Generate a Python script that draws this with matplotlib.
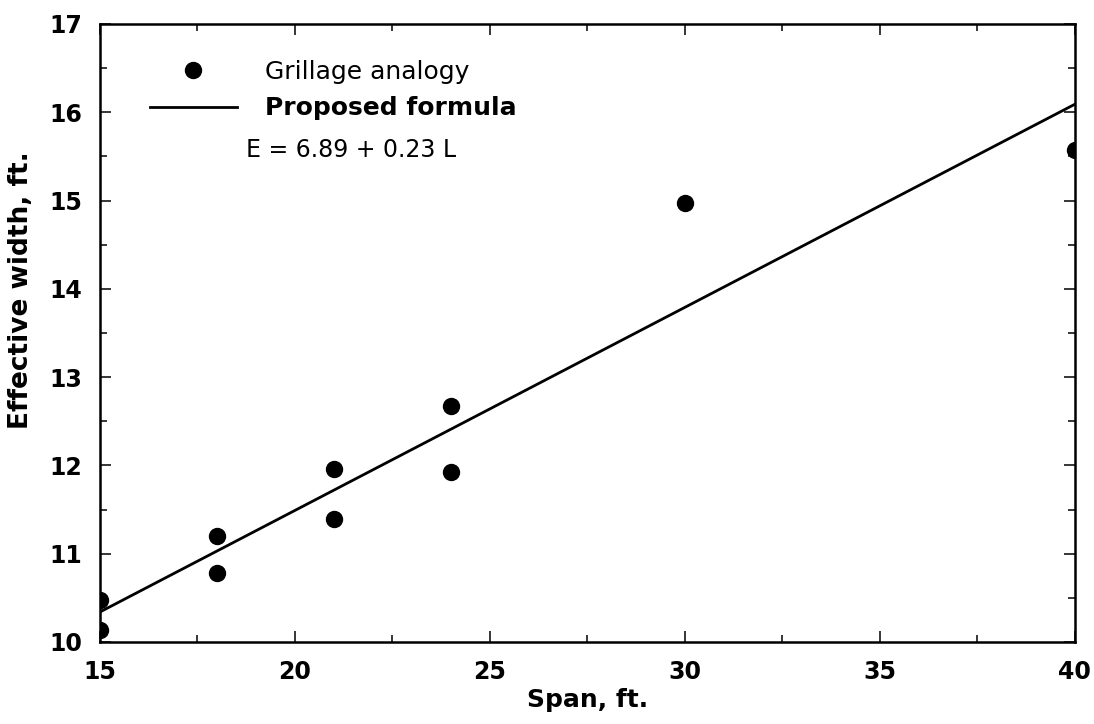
import matplotlib.pyplot as plt
from matplotlib.ticker import MultipleLocator
from matplotlib.lines import Line2D

# Grillage analogy results
span = [15, 15, 18, 18, 21, 21, 24, 24, 30, 40]
width = [10.13, 10.47, 10.78, 11.20, 11.39, 11.96, 11.93, 12.67, 14.97, 15.57]

# Proposed formula line end points
line_span = [15, 40]
line_width = [10.34, 16.09]

plt.rcParams['font.family'] = ['DejaVu Sans']

fig = plt.figure(figsize=(10.94, 7.24), dpi=100)
ax = fig.add_axes([0.0914, 0.1133, 0.891, 0.8536])

ax.plot(line_span, line_width, color='black', lw=2.0)
# dots on the spines are clipped to half circles, as in the original
ax.plot(span, width, 'o', color='black', markersize=11.5)

ax.set_xlim(15, 40)
ax.set_ylim(10, 17)
ax.xaxis.set_major_locator(MultipleLocator(5))
ax.xaxis.set_minor_locator(MultipleLocator(2.5))
ax.yaxis.set_major_locator(MultipleLocator(1))
ax.yaxis.set_minor_locator(MultipleLocator(0.5))
ax.tick_params(which='both', direction='in', top=True, right=True, width=1.1)
ax.tick_params(which='major', length=8, labelsize=17, pad=13)
ax.tick_params(which='minor', length=5)
for lbl in ax.get_xticklabels() + ax.get_yticklabels():
    lbl.set_fontweight('bold')
for s in ax.spines.values():
    s.set_linewidth(1.8)

ax.set_xlabel('Span, ft.', fontsize=18, fontweight='bold', labelpad=3)
ax.set_ylabel('Effective width, ft.', fontsize=19, fontweight='bold')
ax.yaxis.set_label_coords(-0.068, 0.57)

handles = [Line2D([], [], marker='o', color='black', ls='none', markersize=11.5),
           Line2D([], [], color='black', lw=2.0)]
leg = ax.legend(handles, ['Grillage analogy', 'Proposed formula'], loc='upper left',
                bbox_to_anchor=(0.051, 0.942), frameon=False, fontsize=18,
                borderpad=0, borderaxespad=0,
                handlelength=3.5, handletextpad=1.1, labelspacing=0.5)
leg.get_texts()[1].set_fontweight('bold')
ax.text(0.150, 0.796, 'E = 6.89 + 0.23 L', transform=ax.transAxes,
        fontsize=17, va='center')

fig.savefig('out.png', dpi=100)
